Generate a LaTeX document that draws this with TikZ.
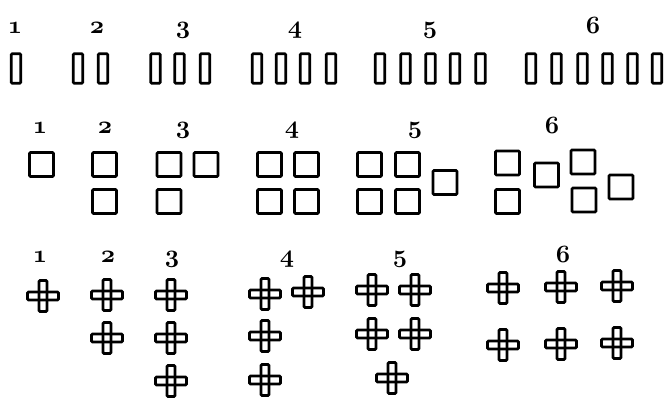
\documentclass[tikz,border=0pt]{standalone}
\newcommand\oldnum[1]{{\usefont{OML}{cmm}{b}{it}#1}}
\begin{document}
\begin{tikzpicture}[x=1pt,y=-1pt,
  lbl/.style={anchor=base,inner sep=0pt,font=\fontsize{28}{32}\selectfont},
  barbox/.style={draw,line width=2.8pt,rounded corners=1pt,minimum width=9.5pt,minimum height=29.5pt,inner sep=0pt},
  sqbox/.style={draw,line width=2.8pt,rounded corners=1pt,minimum size=24pt,inner sep=0pt},
  crossline/.style={line width=2.8pt,rounded corners=1.2pt},
  crossmark/.pic={\draw[crossline] (-15.5,-4) rectangle (15.5,4);
                  \draw[crossline] (-4,-15.5) rectangle (4,15.5);}]
\useasboundingbox (0,0) rectangle (666,397);
% row 1 labels
\foreach \n/\x in {1/15,2/97,3/183,4/295,5/430,6/593}
  \node[lbl] (a\n) at (\x,33) {\oldnum{\n}};
% row 1 bars
\foreach \x [count=\i] in {16,78,103,155.5,179.5,205,257,281,305,331,380,405.5,430.5,455,480.5,531,556.5,582.5,607.5,632.5,657}
  \node[barbox] (b\i) at (\x,68.5) {};
% row 2 labels
\foreach \n/\x in {1/40,2/105,3/183,4/292,5/415,6/552}
  \node[lbl] (c\n) at (\x,133) {\oldnum{\n}};
% row 2 squares
\foreach \x/\y [count=\i] in {41.5/164.5,
  104.5/164.5,104.5/201.5,
  169/164.5,206/164.5,169/201.5,
  269.5/164.5,306.5/164.5,269.5/201.5,306.5/201.5,
  369.5/164.5,407.5/164.5,369.5/201.5,407.5/201.5,445/182.5,
  507.5/163,507.5/201.5,546.5/175,583/162,584/200,621/187}
  \node[sqbox] (s\i) at (\x,\y) {};
% row 3 labels
\foreach \n/\x in {1/40,2/108,3/172,4/287,5/400,6/563}
  \node[lbl] (e\n) at (\x,262) {\oldnum{\n}};
% row 3 crosses
\foreach \x/\y [count=\i] in {43/296,
  107/295,107/338,
  171/295,171/338,171/381,
  265/294,308/292,265/336,265/380,
  372/290,415/290,372/334,415/334,392/378,
  503/288,561/287,617/286,503/345,561/344,617/343}
  \pic (x\i) at (\x,\y) {crossmark};
\end{tikzpicture}
\end{document}
